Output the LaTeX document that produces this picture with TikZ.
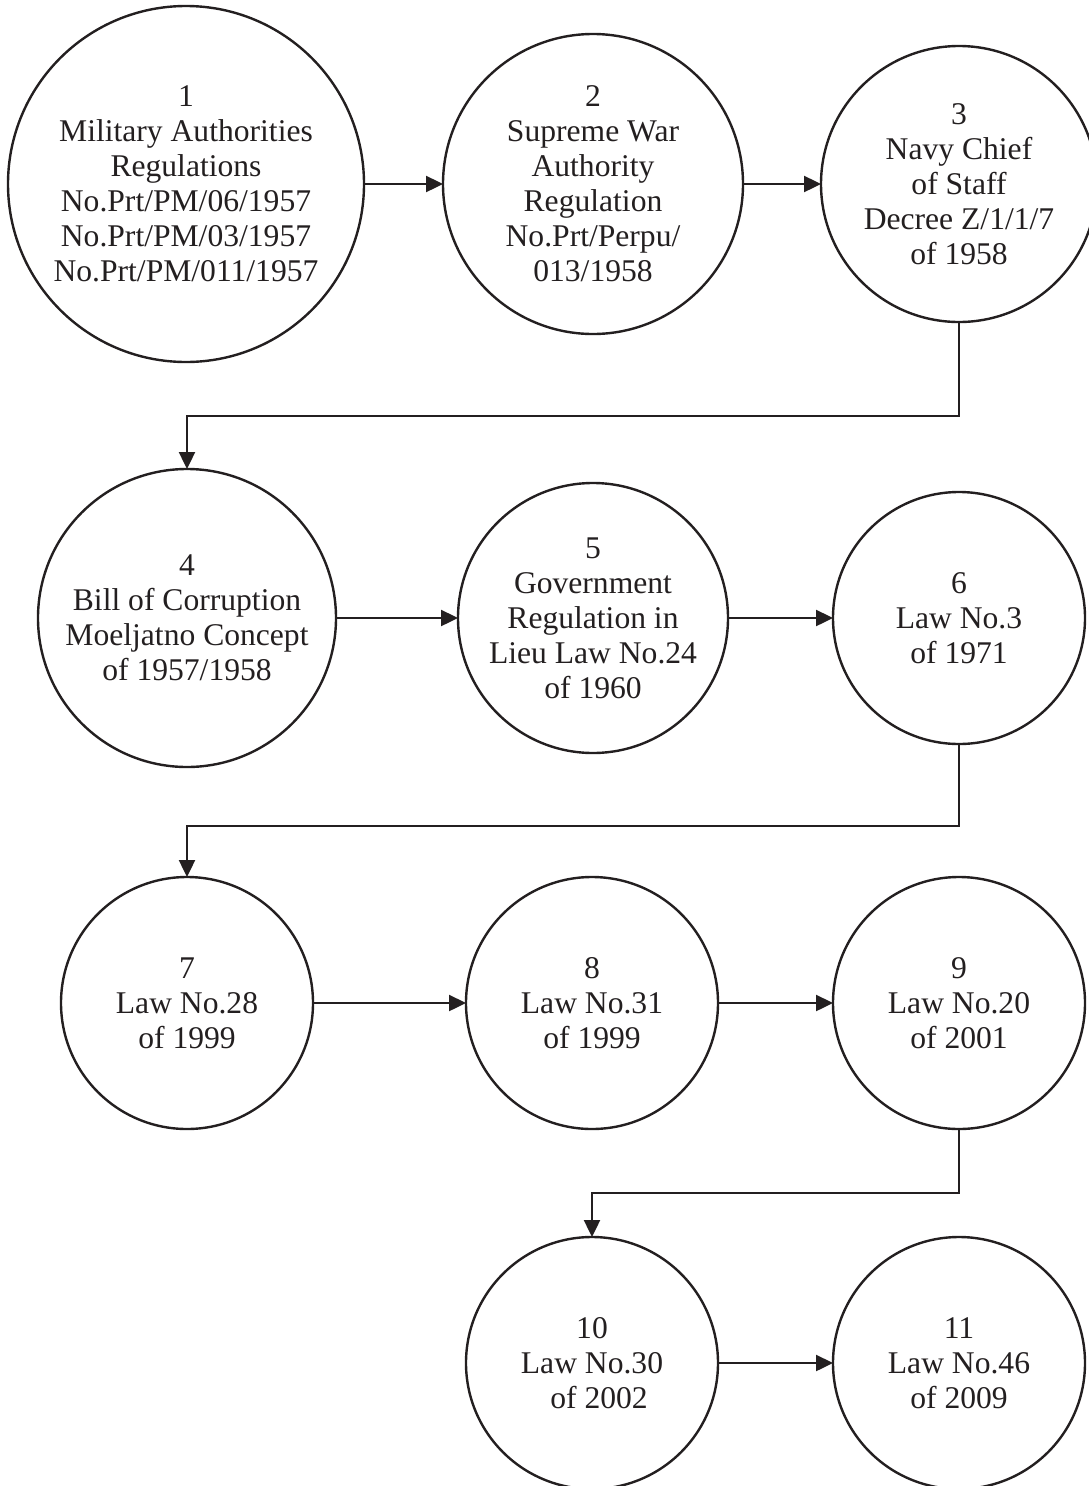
\documentclass[tikz,border=0pt]{standalone}
\usepackage{fontspec}
\setmainfont{Liberation Serif}
\usetikzlibrary{arrows.meta}
\definecolor{ink}{HTML}{231F20}
\begin{document}
\begin{tikzpicture}[x=1pt,y=-1pt,
  circ/.style={draw=ink, line width=2.4pt, circle, inner sep=0pt, outer sep=0pt},
  lbl/.style={align=center, text=ink, font=\fontsize{31.6}{35}\selectfont, inner sep=0pt},
  arr/.style={draw=ink, line width=2.4pt, -{Triangle[length=17pt,width=16pt]}}]
\useasboundingbox (0,0) rectangle (1089,1486);
\clip (0,0) rectangle (1089,1486);
% circles
\node[circ, minimum size=356pt] (c1) at (186,184) {};
\node[circ, minimum size=300pt] (c2) at (593,184) {};
\node[circ, minimum size=276pt] (c3) at (959,184) {};
\node[circ, minimum size=298pt] (c4) at (187,618) {};
\node[circ, minimum size=270pt] (c5) at (593,618) {};
\node[circ, minimum size=252pt] (c6) at (959,618) {};
\node[circ, minimum size=252pt] (c7) at (187,1003) {};
\node[circ, minimum size=252pt] (c8) at (592,1003) {};
\node[circ, minimum size=252pt] (c9) at (959,1003) {};
\node[circ, minimum size=252pt] (c10) at (592,1363) {};
\node[circ, minimum size=252pt] (c11) at (959,1363) {};
% labels
\node[lbl] (t1) at (c1.center) {1\\Military Authorities\\Regulations\\No.Prt/PM/06/1957\\No.Prt/PM/03/1957\\No.Prt/PM/011/1957};
\node[lbl] (t2) at (c2.center) {2\\Supreme War\\Authority\\Regulation\\No.Prt/Perpu/\\013/1958};
\node[lbl] (t3) at (c3.center) {3\\Navy Chief\\of Staff\\Decree Z/1/1/7\\of 1958};
\node[lbl] (t4) at (c4.center) {4\\Bill of Corruption\\Moeljatno Concept\\of 1957/1958};
\node[lbl] (t5) at (c5.center) {5\\Government\\Regulation in\\Lieu Law No.24\\of 1960};
\node[lbl] (t6) at (c6.center) {6\\Law No.3\\of 1971};
\node[lbl] (t7) at (c7.center) {7\\Law No.28\\of 1999};
\node[lbl] (t8) at (c8.center) {8\\Law No.31\\of 1999};
\node[lbl] (t9) at (c9.center) {9\\Law No.20\\of 2001};
\node[lbl] (t10) at (c10.center) {10\\Law No.30\\\hspace*{14pt}of 2002};
\node[lbl] (t11) at (c11.center) {11\\Law No.46\\of 2009};
% bend points
\coordinate (b1) at (959,416);
\coordinate (b2) at (959,826);
\coordinate (b3) at (959,1193);
% connectors
\draw[arr] (c1.east) -- (c2.west);
\draw[arr] (c2.east) -- (c3.west);
\draw[arr] (c3.south) -- (b1) -| (c4.north);
\draw[arr] (c4.east) -- (c5.west);
\draw[arr] (c5.east) -- (c6.west);
\draw[arr] (c6.south) -- (b2) -| (c7.north);
\draw[arr] (c7.east) -- (c8.west);
\draw[arr] (c8.east) -- (c9.west);
\draw[arr] (c9.south) -- (b3) -| (c10.north);
\draw[arr] (c10.east) -- (c11.west);
\end{tikzpicture}
\end{document}
